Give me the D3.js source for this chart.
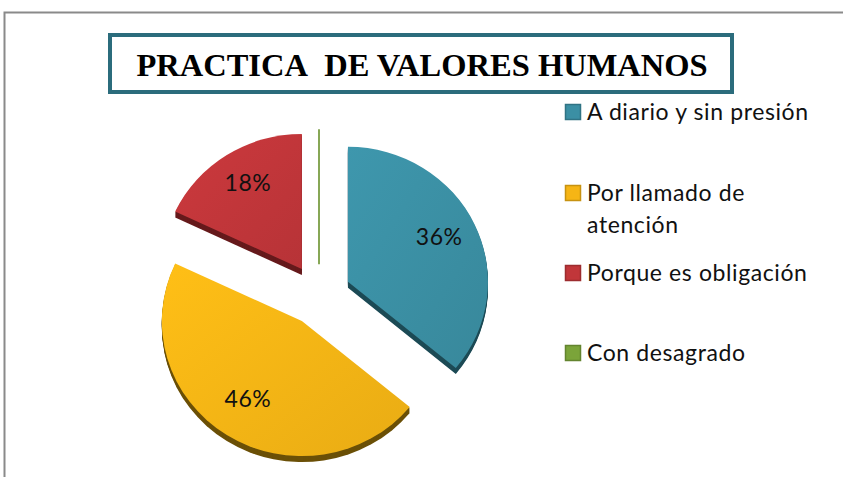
<!DOCTYPE html>
<html>
<head>
<meta charset="utf-8">
<script src="https://cdn.jsdelivr.net/npm/d3@7"></script>
<style>
  body { margin: 0; background: #fff; }
  svg { display: block; }
</style>
</head>
<body>
<div id="chart"></div>
<script>
// chart data
var titleText = "PRACTICA\u00a0 DE VALORES HUMANOS";
var categories = ["A diario y sin presión", "Por llamado de atención", "Porque es obligación", "Con desagrado"];
var values = [36, 46, 18, 0];
var topColors = ["#3b8fa4", "#f6b515", "#c1363a", "#7ba43a"];
var sideColors = ["#1d4b56", "#6b5007", "#661a1c", "#3d5a1c"];

var width = 843, height = 477;

var svg = d3.select("#chart").append("svg")
    .attr("width", width)
    .attr("height", height);

// outer frame (only top and left visible)
svg.append("path")
    .attr("d", "M4.5," + height + " L4.5,12.5 L" + width + ",12.5")
    .attr("fill", "none")
    .attr("stroke", "#8a8a8a")
    .attr("stroke-width", 2);

// title box
svg.append("rect")
    .attr("x", 110).attr("y", 35)
    .attr("width", 622).attr("height", 57)
    .attr("fill", "#fff")
    .attr("stroke", "#2b6c7c")
    .attr("stroke-width", 4);

svg.append("text")
    .attr("x", 422).attr("y", 76)
    .attr("text-anchor", "middle")
    .attr("font-family", "'Liberation Serif', 'Times New Roman', serif")
    .attr("font-weight", "bold")
    .attr("font-size", 32.5)
    .text(titleText);

// gradients for the slice tops
var defs = svg.append("defs");
topColors.forEach(function(c, i) {
    var g = defs.append("linearGradient")
        .attr("id", "grad" + i)
        .attr("x1", "0").attr("y1", "0")
        .attr("x2", "1").attr("y2", "1");
    g.append("stop").attr("offset", "0%").attr("stop-color", d3.color(c).brighter(0.15));
    g.append("stop").attr("offset", "100%").attr("stop-color", d3.color(c).darker(0.15));
});

// pie geometry
var cx = 319, cy = 295;
var rx = 140, ry = 135;
var squash = ry / rx;
var explode = 32;
var depth = 6;

var pie = d3.pie().sort(null).value(function(d) { return d; });
var arcs = pie(values);

var arc = d3.arc().innerRadius(0).outerRadius(rx);
var labelArc = d3.arc().innerRadius(rx * 0.72).outerRadius(rx * 0.72);

var slices = svg.append("g");

arcs.forEach(function(a, i) {
    var mid = (a.startAngle + a.endAngle) / 2;
    var ox = cx + explode * Math.sin(mid);
    var oy = cy - explode * Math.cos(mid) * squash;
    var g = slices.append("g").attr("transform", "translate(" + ox + "," + oy + ")");

    if (a.value === 0) {
        // zero slice shows as a thin line
        g.append("line")
            .attr("x1", 0).attr("y1", 0)
            .attr("x2", 0).attr("y2", -ry)
            .attr("stroke", "#5f8a1e")
            .attr("stroke-width", 1.5);
        return;
    }

    // extruded side
    for (var k = depth; k >= 1; k--) {
        g.append("path")
            .attr("transform", "translate(0," + k + ") scale(1," + squash + ")")
            .attr("d", arc(a))
            .attr("fill", sideColors[i]);
    }
    // top face
    g.append("path")
        .attr("transform", "scale(1," + squash + ")")
        .attr("d", arc(a))
        .attr("fill", "url(#grad" + i + ")");

    var c = labelArc.centroid(a);
    g.append("text")
        .attr("x", c[0])
        .attr("y", c[1] * squash - 4)
        .attr("dy", "0.35em")
        .attr("text-anchor", "middle")
        .attr("font-family", "Lato, 'Open Sans', sans-serif")
        .attr("font-size", 23)
        .attr("letter-spacing", 0.5)
        .attr("fill", "#111")
        .text(a.value + "%");
});

// legend
var legendY = [112, 193, 273, 353];
var legend = svg.append("g");
var maxLine = 232;

categories.forEach(function(name, i) {
    var row = legend.append("g").attr("transform", "translate(565," + legendY[i] + ")");
    row.append("rect")
        .attr("x", 0.5).attr("y", -7.5)
        .attr("width", 15).attr("height", 15)
        .attr("fill", topColors[i])
        .attr("stroke", d3.color(topColors[i]).darker(0.6))
        .attr("stroke-width", 1.5);

    var text = row.append("text")
        .attr("x", 22)
        .attr("font-family", "Lato, 'Open Sans', sans-serif")
        .attr("font-size", 23)
        .attr("letter-spacing", 0.6)
        .attr("fill", "#111");

    // simple word wrap
    var words = name.split(" "), line = [], lines = [];
    var tspan = text.append("tspan").attr("x", 22);
    words.forEach(function(w) {
        line.push(w);
        tspan.text(line.join(" "));
        if (tspan.node().getComputedTextLength() > maxLine && line.length > 1) {
            line.pop();
            lines.push(line.join(" "));
            line = [w];
            tspan.text(w);
        }
    });
    lines.push(line.join(" "));
    tspan.remove();
    lines.forEach(function(l, j) {
        text.append("tspan")
            .attr("x", 22)
            .attr("y", 8 + j * 32)
            .text(l);
    });
});
</script>
</body>
</html>
